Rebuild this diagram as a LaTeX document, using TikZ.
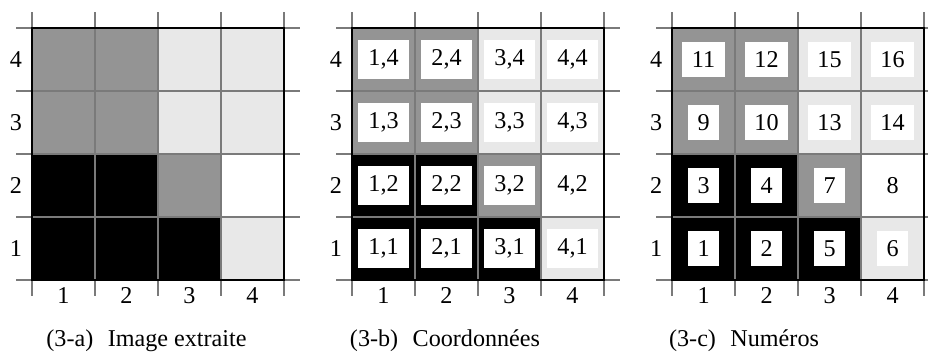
\documentclass[tikz,border=0pt]{standalone}
\usepackage{fontspec}
\setmainfont{Liberation Serif}
\usepackage{tikz}
\usepackage{xcolor}
\definecolor{darkpix}{HTML}{949494}
\definecolor{lightpix}{HTML}{E8E8E8}
\definecolor{gridgray}{HTML}{7A7A7A}

% colour of each pixel: column/row/colour
\newcommand{\imgcells}{1/4/darkpix,2/4/darkpix,3/4/lightpix,4/4/lightpix,
  1/3/darkpix,2/3/darkpix,3/3/lightpix,4/3/lightpix,
  1/2/black,2/2/black,3/2/darkpix,4/2/white,
  1/1/black,2/1/black,3/1/black,4/1/lightpix}
% pixel numbers: column/row/number
\newcommand{\imgnums}{1/4/11,2/4/12,3/4/15,4/4/16,
  1/3/9,2/3/10,3/3/13,4/3/14,
  1/2/3,2/2/4,3/2/7,4/2/8,
  1/1/1,2/1/2,3/1/5,4/1/6}

\begin{document}
\begin{tikzpicture}[
  font=\fontsize{10.9}{12}\selectfont,
  gridline/.style={gridgray, line width=0.5pt},
  border/.style={black, line width=0.6pt},
  coordbox/.style={fill=white, inner sep=0pt, minimum width=0.81cm, minimum height=0.63cm},
  numbox/.style={fill=white, inner xsep=4.3pt, inner ysep=0pt, minimum height=0.55cm},
  axislbl/.style={inner sep=0pt},
  caption/.style={anchor=base, inner sep=0pt}
]
\useasboundingbox (-0.508,-1.143) rectangle (14.222,4.444);

% the three panels, same image each time
\foreach \p/\dx in {a/0, b/5.0794, c/10.159} {
  \begin{scope}[xshift=\dx cm]
    % pixels
    \foreach \c/\r/\col in \imgcells
      \fill[\col] (\c-1,\r-1) rectangle (\c,\r);
    % grid
    \foreach \i in {0,...,4} {
      \draw[gridline] (\i,-0.254) -- (\i,4.254);
      \draw[gridline] (-0.254,\i) -- (4.254,\i);
    }
    \draw[border] (0,0) rectangle (4,4);
    % axis labels
    \foreach \i in {1,...,4} {
      \node[axislbl] (\p-row\i) at (-0.254,\i-0.5) {\i};
      \node[axislbl, anchor=base] (\p-col\i) at (\i-0.5,-0.381) {\i};
    }
  \end{scope}
}

% (3-b) coordinates
\begin{scope}[xshift=5.0794cm]
  \foreach \c/\r/\col in \imgcells
    \node[coordbox] (b-\c\r) at (\c-0.5,\r-0.5) {\c,\r};
\end{scope}

% (3-c) numbers
\begin{scope}[xshift=10.159cm]
  \foreach \c/\r/\n in \imgnums
    \node[numbox] (c-\c\r) at (\c-0.5,\r-0.5) {\n};
\end{scope}

% captions
\node[caption] (cap-a) at (1.817,-1.063) {(3-a)\hspace{0.6em}Image extraite};
\node[caption] (cap-b) at (5.0794+1.476,-1.063) {(3-b)\hspace{0.6em}Coordonnées};
\node[caption] (cap-c) at (10.159+1.143,-1.063) {(3-c)\hspace{0.6em}Numéros};

\end{tikzpicture}
\end{document}
